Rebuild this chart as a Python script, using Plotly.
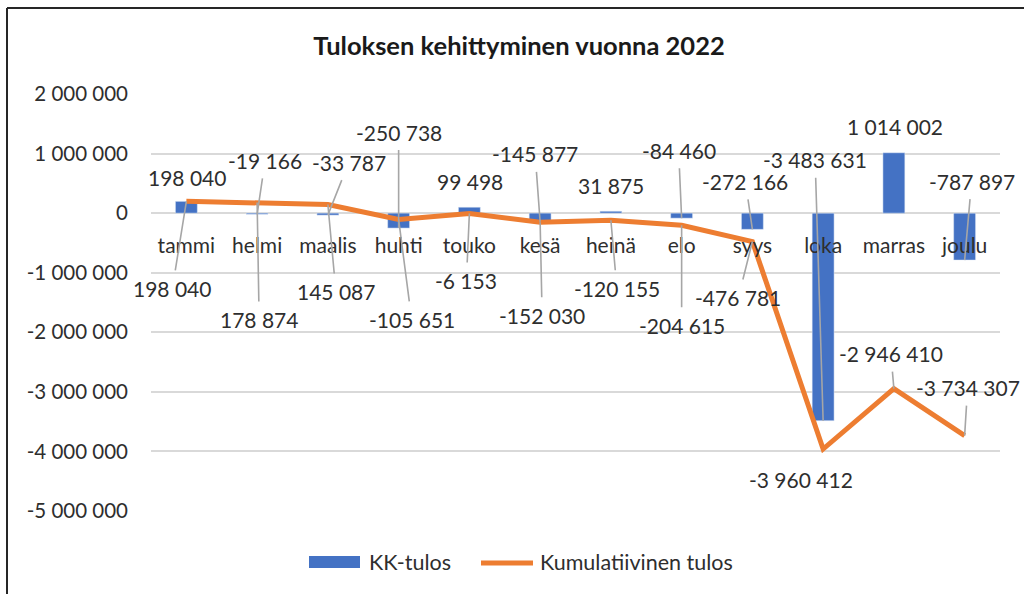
import plotly.graph_objects as go

months = ["tammi", "helmi", "maalis", "huhti", "touko", "kesä", "heinä", "elo", "syys", "loka", "marras", "joulu"]
kk_tulos = [198040, -19166, -33787, -250738, 99498, -145877, 31875, -84460, -272166, -3483631, 1014002, -787897]
kumulatiivinen = [198040, 178874, 145087, -105651, -6153, -152030, -120155, -204615, -476781, -3960412, -2946410, -3734307]
y_tickvals = [2000000, 1000000, 0, -1000000, -2000000, -3000000, -4000000, -5000000]
y_ticktext = ["2 000 000", "1 000 000", "0", "-1 000 000", "-2 000 000", "-3 000 000", "-4 000 000", "-5 000 000"]
series_names = ["KK-tulos", "Kumulatiivinen tulos"]

FONT = "Lato"
TXT = "#2e2e2e"
BLUE = "#4472C4"
ORANGE = "#ED7D31"

# label offsets in screen pixels (dx, dy, leader line?)
bar_offsets = [(1, -24, False), (8, -54, True), (21, -53, True), (0, -96, True), (1, -26, False), (-5, -68, True),
               (0, -26, False), (-3, -68, True), (-7, -48, True), (-8, -261, True), (1, -26, False), (7, -79, True)]
line_offsets = [(-14, 87, True), (2, 117, True), (8, 87, True), (13, 100, True), (-3, 67, True), (2, 93, True),
                (6, 68, True), (0, 100, True), (-14, 56, True), (-22, 30, False), (-3, -35, True), (3, -48, True)]


def fmt(v):
    return f"{v:,}".replace(",", " ")


fig = go.Figure()
fig.add_bar(x=months, y=kk_tulos, name=series_names[0], marker_color=BLUE, width=0.31, showlegend=False)
fig.add_scatter(x=months, y=kumulatiivinen, mode="lines", name=series_names[1],
                line=dict(color=ORANGE, width=5), showlegend=False)

annotations = []
for series, offs in ((kk_tulos, bar_offsets), (kumulatiivinen, line_offsets)):
    for m, v, (dx, dy, leader) in zip(months, series, offs):
        base = dict(x=m, y=v, xref="x", yref="y", text=fmt(v),
                    font=dict(family=FONT, size=21, color=TXT))
        if leader:
            base.update(showarrow=True, ax=dx, ay=dy, arrowhead=0, arrowwidth=1.6,
                        arrowcolor="#A6A6A6", borderpad=5, standoff=0)
        else:
            base.update(showarrow=False, xshift=dx, yshift=-dy, xanchor="center", yanchor="middle")
        annotations.append(base)

L, R, T, B = 151, 24, 94, 83
W, H = 1024, 594
pw, ph = W - L - R, H - T - B


def px(x):
    return (x - L) / pw


def py(y):
    return (H - B - y) / ph


# manual legend (Excel-style wide swatches)
annotations.append(dict(xref="paper", yref="paper", x=px(367), y=py(562), xanchor="left", yanchor="middle",
                        text=series_names[0], showarrow=False, font=dict(family=FONT, size=21.5, color=TXT)))
annotations.append(dict(xref="paper", yref="paper", x=px(538), y=py(562), xanchor="left", yanchor="middle",
                        text=series_names[1], showarrow=False, font=dict(family=FONT, size=21.5, color=TXT)))

fig.update_layout(
    width=W, height=H,
    margin=dict(l=L, r=R, t=T, b=B),
    paper_bgcolor="white", plot_bgcolor="white",
    font=dict(family=FONT, size=21, color=TXT),
    title=dict(text="<b>Tuloksen kehittyminen vuonna 2022</b>", x=519 / W, xanchor="center",
               y=1 - 46 / H, yanchor="middle", font=dict(family=FONT, size=25.5, color="#1a1a1a")),
    xaxis=dict(type="category", range=[-0.5, 11.5], anchor="free", position=py(213.3),
               showgrid=False, showline=False, zeroline=False, ticks="", ticklabelstandoff=18,
               tickfont=dict(family=FONT, size=21, color=TXT), layer="above traces"),
    yaxis=dict(range=[-5000000, 2000000], tickvals=y_tickvals, ticktext=y_ticktext,
               showgrid=True, gridcolor="#D9D9D9", gridwidth=1.5, zeroline=True,
               zerolinecolor="#D9D9D9", zerolinewidth=1.5, showline=False, ticks="",
               ticklabelstandoff=22, tickfont=dict(family=FONT, size=20.5, color=TXT)),
    showlegend=False,
    annotations=annotations,
    shapes=[
        dict(type="line", xref="paper", yref="paper", x0=px(7), x1=px(7), y0=py(8), y1=py(620),
             line=dict(color="#262626", width=2)),
        dict(type="line", xref="paper", yref="paper", x0=px(7), x1=px(1040), y0=py(8), y1=py(8),
             line=dict(color="#262626", width=2)),
        dict(type="rect", xref="paper", yref="paper", x0=px(309), x1=px(360), y0=py(568), y1=py(556),
             fillcolor=BLUE, line=dict(width=0)),
        dict(type="line", xref="paper", yref="paper", x0=px(481), x1=px(533), y0=py(563), y1=py(563),
             line=dict(color=ORANGE, width=5)),
    ],
)

fig.write_html("out.html", config={"displayModeBar": False},
               post_script="document.body.style.margin='0';document.body.style.overflow='hidden';")
